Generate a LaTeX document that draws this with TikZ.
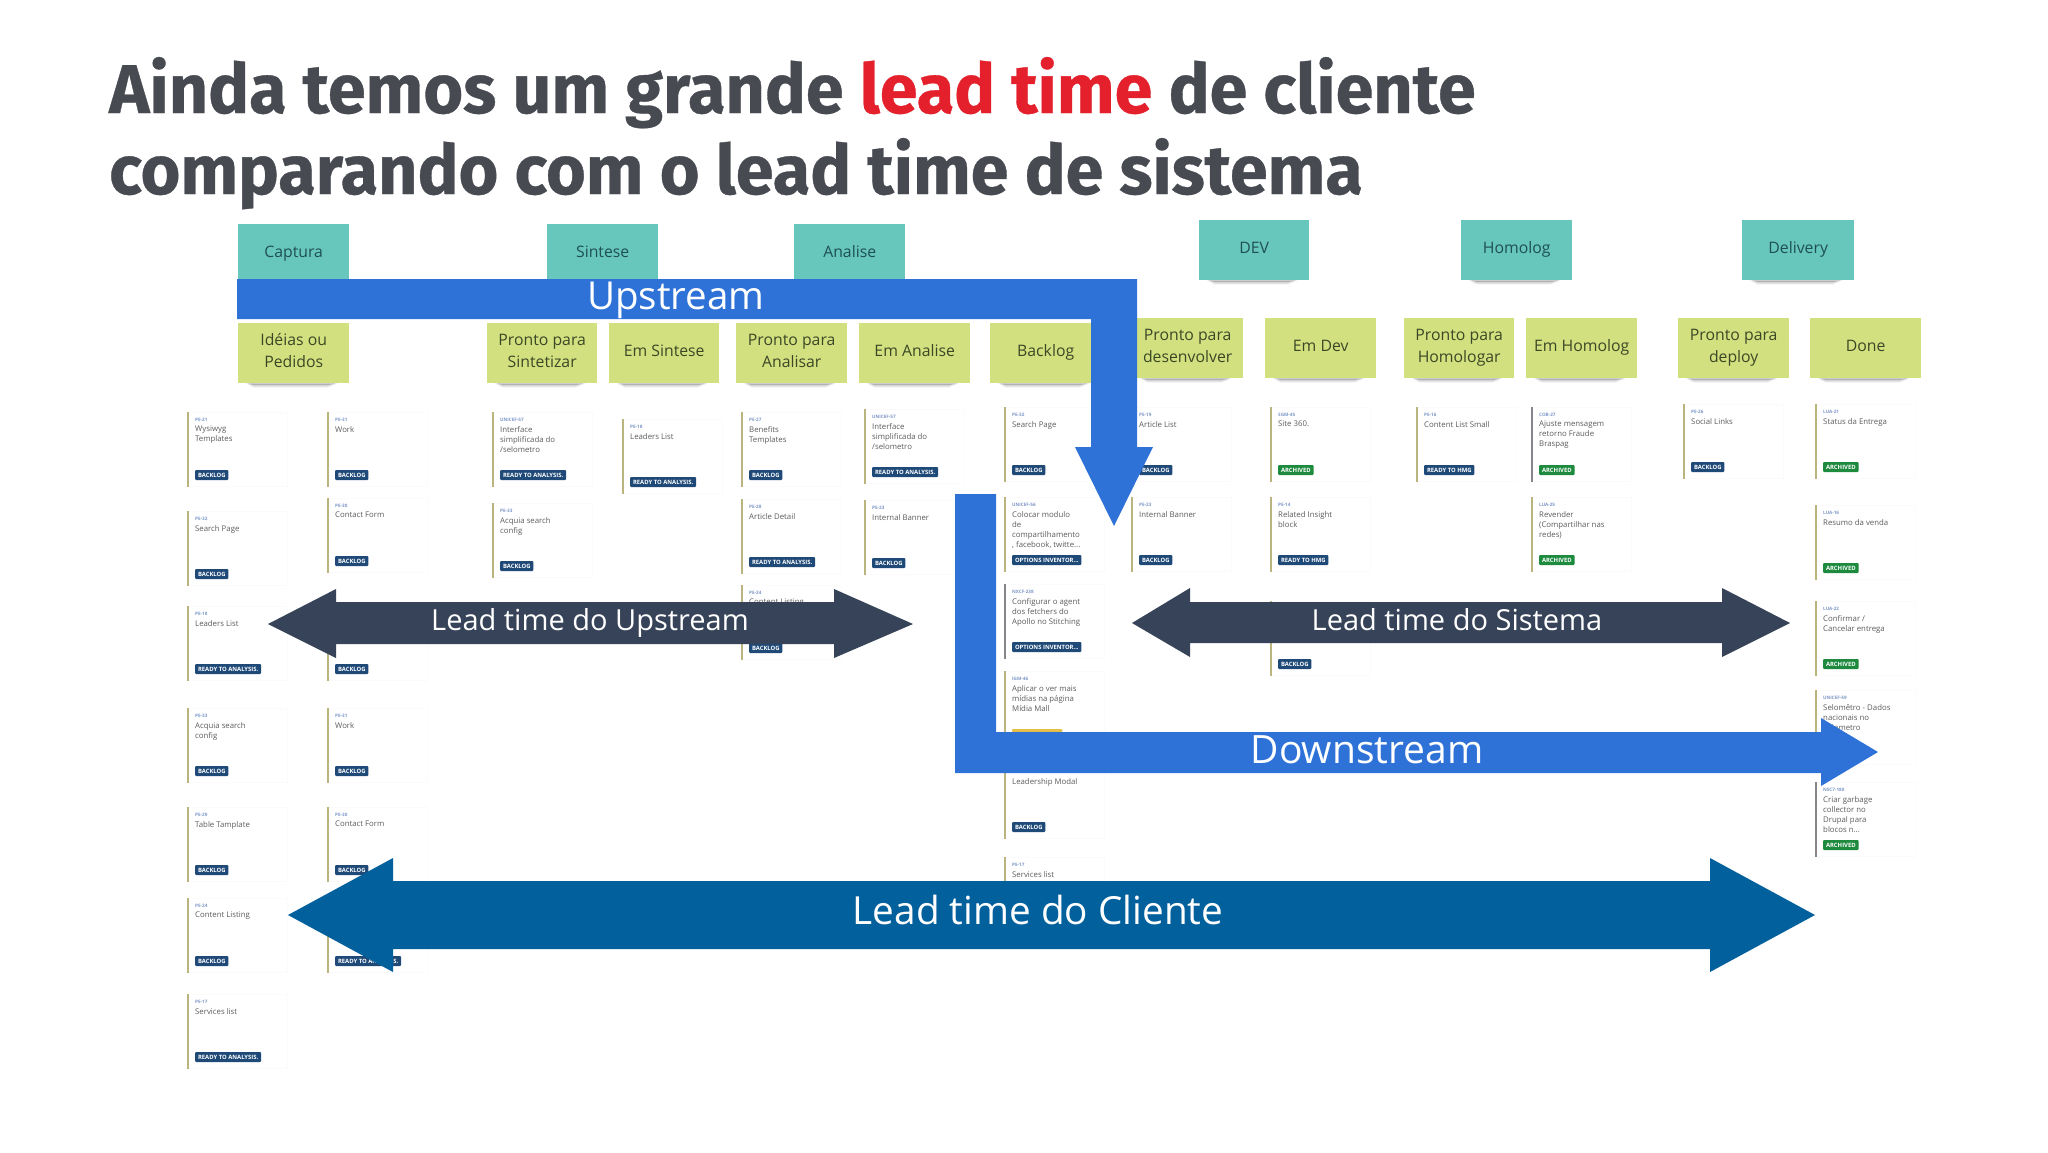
\documentclass[tikz,border=0pt]{standalone}
\usepackage{fontspec}
\setmainfont{Open Sans}
\newfontfamily\titlefont{Fira Sans}[FakeStretch=0.99,FakeBold=0.5]
\definecolor{titlegrey}{HTML}{484A52}
\definecolor{titlered}{HTML}{E3202B}
\definecolor{flowblue}{HTML}{2E72D8}
\definecolor{leaddark}{HTML}{374359}
\definecolor{leadblue}{HTML}{02609C}
\definecolor{tealnote}{HTML}{68C7BD}
\definecolor{limenote}{HTML}{D3E07F}
\definecolor{tealtext}{HTML}{1E4F58}
\definecolor{limetext}{HTML}{3B4826}
\definecolor{barolive}{HTML}{B9B57D}
\definecolor{bargrey}{HTML}{85858A}
\definecolor{tagblue}{HTML}{1F4A78}
\definecolor{taggreen}{HTML}{1D8A3E}
\definecolor{tagamber}{HTML}{E3BE4A}
\definecolor{idblue}{HTML}{7D97C8}
\definecolor{cardtext}{HTML}{5C5C60}
\tikzset{
  note/.style={anchor=north west,minimum width=#1pt,minimum height=60pt,inner sep=0pt},
  tealbox/.style={note=#1,fill=tealnote},
  limebox/.style={note=#1,fill=limenote},
  notelabel/.style={inner sep=0pt,align=center,yshift=1.5pt,font=\fontsize{15.8}{22}\selectfont},
  notelabeltealbox/.style={notelabel,text=tealtext},
  notelabellimebox/.style={notelabel,text=limetext},
  shadowwide/.style={fill=black,opacity=.10},
  shadowthin/.style={fill=black,opacity=.22},
  cardbox/.style={anchor=north west,minimum width=99pt,minimum height=74pt,inner sep=0pt,fill=white,draw=black!1.5,line width=.6pt},
  cardbar/.style={line width=1.5pt},
  cardid/.style={anchor=base west,inner sep=0pt,text=idblue,font=\fontsize{4.6}{5}\selectfont\bfseries},
  cardtitle/.style={anchor=north west,inner sep=0pt,align=left,text=cardtext,font=\fontsize{7.8}{10}\selectfont},
  tagbox/.style={anchor=west,inner xsep=2.8pt,inner ysep=0pt,minimum height=10pt,rounded corners=1pt,text=white,font=\fontsize{5.9}{6}\selectfont\bfseries},
  flowarrow/.style={fill=flowblue},
  leadarrow/.style={fill=leaddark},
  clientarrow/.style={fill=leadblue},
  biglabel/.style={inner sep=0pt,text=white,font=\fontsize{#1}{#1}\selectfont},
}
\newcount\cardno
\newcommand{\card}[7]{%
  \global\advance\cardno by 1
  \node[cardbox] (c\the\cardno) at (#1,#2) {};
  \draw[cardbar,#3] (c\the\cardno.north west) -- (c\the\cardno.south west);
  \node[cardid] (cid\the\cardno) at ({#1+7},{#2+9.5}) {#4};
  \node[cardtitle] (ct\the\cardno) at ({#1+7},{#2+14}) {#5};
  \node[tagbox,fill=#7] (ctag\the\cardno) at ({#1+7},{#2+63}) {#6};
}
\newcommand{\bk}{BACKLOG}
\newcommand{\ra}{READY TO ANALYSIS.}
\newcommand{\ar}{ARCHIVED}
\newcommand{\rh}{READY TO HMG}
\newcommand{\oi}{OPTIONS INVENTOR...}
\newcommand{\sticky}[6]{%
  \node[#4=#5] (#1) at (#2,#3) {};
  \node[notelabel#4] (#1t) at (#1.center) {\strut #6\strut};
  \fill[shadowwide] ([xshift=8pt]#1.south west) -- ([xshift=-12pt]#1.south east) -- ([xshift=-22pt,yshift=-4pt]#1.south east) -- ([xshift=16pt,yshift=-4pt]#1.south west) -- cycle;
  \fill[shadowthin] ([xshift=10pt]#1.south west) -- ([xshift=-14pt]#1.south east) -- ([xshift=-22pt,yshift=-2pt]#1.south east) -- ([xshift=16pt,yshift=-2pt]#1.south west) -- cycle;
}
\begin{document}
\begin{tikzpicture}[x=1pt,y=-1pt]
\useasboundingbox[fill=white] (0,0) rectangle (2048,1152);
% title
\node[anchor=base west,inner sep=0pt,text=titlegrey,font=\titlefont\bfseries\fontsize{69}{70}\selectfont] (t1) at (109,113) {Ainda temos um grande \textcolor{titlered}{lead time} de cliente};
\node[anchor=base west,inner sep=0pt,text=titlegrey,font=\titlefont\bfseries\fontsize{69}{70}\selectfont] (t2) at (109,194) {comparando com o lead time de sistema};
% cards
\card{188}{412}{barolive}{PE-21}{Wysiwyg\\Templates}{\bk}{tagblue}
\card{328}{412}{barolive}{PE-31}{Work}{\bk}{tagblue}
\card{493}{412}{barolive}{UNICEF-57}{Interface\\simplificada do\\/selometro}{\ra}{tagblue}
\card{188}{511}{barolive}{PE-32}{Search Page}{\bk}{tagblue}
\card{328}{498}{barolive}{PE-30}{Contact Form}{\bk}{tagblue}
\card{493}{503}{barolive}{PE-33}{Acquia search\\config}{\bk}{tagblue}
\card{188}{606}{barolive}{PE-18}{Leaders List}{\ra}{tagblue}
\card{328}{606}{barolive}{}{}{\bk}{tagblue}
\card{188}{708}{barolive}{PE-33}{Acquia search\\config}{\bk}{tagblue}
\card{328}{708}{barolive}{PE-31}{Work}{\bk}{tagblue}
\card{188}{807}{barolive}{PE-29}{Table Tamplate}{\bk}{tagblue}
\card{328}{807}{barolive}{PE-30}{Contact Form}{\bk}{tagblue}
\card{188}{898}{barolive}{PE-24}{Content Listing}{\bk}{tagblue}
\card{328}{898}{barolive}{}{}{\ra}{tagblue}
\card{188}{994}{barolive}{PE-17}{Services list}{\ra}{tagblue}
\card{623}{419}{barolive}{PE-18}{Leaders List}{\ra}{tagblue}
\card{742}{412}{barolive}{PE-27}{Benefits\\Templates}{\bk}{tagblue}
\card{865}{409}{barolive}{UNICEF-57}{Interface\\simplificada do\\/selometro}{\ra}{tagblue}
\card{1005}{407}{barolive}{PE-32}{Search Page}{\bk}{tagblue}
\card{742}{499}{barolive}{PE-28}{Article Detail}{\ra}{tagblue}
\card{865}{500}{barolive}{PE-23}{Internal Banner}{\bk}{tagblue}
\card{742}{585}{barolive}{PE-24}{Content Listing}{\bk}{tagblue}
\card{1005}{497}{barolive}{UNICEF-56}{Colocar modulo\\de\\compartilhamento\\, facebook, twitte...}{\oi}{tagblue}
\card{1005}{584}{bargrey}{NXCF-238}{Configurar o agent\\dos fetchers do\\Apollo no Stitching}{\oi}{tagblue}
\card{1005}{671}{barolive}{IGM-46}{Aplicar o ver mais\\mídias na página\\Mídia Mall}{\phantom{READY TO HMG}}{tagamber}
\card{1005}{764}{barolive}{}{Leadership Modal}{\bk}{tagblue}
\card{1005}{857}{barolive}{PE-17}{Services list}{}{tagblue}
\card{1132}{407}{barolive}{PE-19}{Article List}{\bk}{tagblue}
\card{1132}{497}{barolive}{PE-23}{Internal Banner}{\bk}{tagblue}
\card{1271}{407}{barolive}{SGM-45}{Site 360.}{\ar}{taggreen}
\card{1271}{497}{barolive}{PE-14}{Related Insight\\block}{\rh}{tagblue}
\card{1271}{601}{barolive}{}{}{\bk}{tagblue}
\card{1417}{407}{barolive}{PE-16}{Content List Small}{\rh}{tagblue}
\card{1532}{407}{bargrey}{COB-27}{Ajuste mensagem\\retorno Fraude\\Braspag}{\ar}{taggreen}
\card{1532}{497}{barolive}{LUA-25}{Revender\\(Compartilhar nas\\redes)}{\ar}{taggreen}
\card{1684}{404}{barolive}{PE-26}{Social Links}{\bk}{tagblue}
\card{1816}{404}{barolive}{LUA-21}{Status da Entrega}{\ar}{taggreen}
\card{1816}{505}{barolive}{LUA-16}{Resumo da venda}{\ar}{taggreen}
\card{1816}{601}{barolive}{LUA-22}{Confirmar /\\Cancelar entrega}{\ar}{taggreen}
\card{1816}{690}{barolive}{UNICEF-59}{Selomêtro - Dados\\nacionais no\\Selometro}{\ar}{taggreen}
\card{1816}{782}{bargrey}{NSC7-180}{Criar garbage\\collector no\\Drupal para\\blocos n...}{\ar}{taggreen}
% stickies
\sticky{s1}{238}{224}{tealbox}{111}{Captura}
\sticky{s2}{547}{224}{tealbox}{111}{Sintese}
\sticky{s3}{794}{224}{tealbox}{111}{Analise}
\sticky{s4}{1199}{220}{tealbox}{110}{DEV}
\sticky{s5}{1461}{220}{tealbox}{111}{Homolog}
\sticky{s6}{1742}{220}{tealbox}{112}{Delivery}
\sticky{n1}{238}{323}{limebox}{111}{Idéias ou\\Pedidos}
\sticky{n2}{487}{323}{limebox}{110}{Pronto para\\Sintetizar}
\sticky{n3}{609}{323}{limebox}{110}{Em Sintese}
\sticky{n4}{736}{323}{limebox}{111}{Pronto para\\Analisar}
\sticky{n5}{859}{323}{limebox}{111}{Em Analise}
\sticky{n6}{990}{323}{limebox}{111}{Backlog}
\sticky{n7}{1132}{318}{limebox}{111}{Pronto para\\desenvolver}
\sticky{n8}{1265}{318}{limebox}{111}{Em Dev}
\sticky{n9}{1404}{318}{limebox}{110}{Pronto para\\Homologar}
\sticky{n10}{1526}{318}{limebox}{111}{Em Homolog}
\sticky{n11}{1678}{318}{limebox}{111}{Pronto para\\deploy}
\sticky{n12}{1810}{318}{limebox}{111}{Done}
% block arrows
\fill[flowarrow] (237,279) -- (1137,279) -- (1137,447) -- (1153,447) -- (1114,526) -- (1075,447) -- (1091,447) -- (1091,319) -- (237,319) -- cycle;
\node[biglabel=38.5] (up) at (676,300) {Upstream};
\fill[flowarrow] (955,494) -- (996,494) -- (996,732) -- (1821,732) -- (1821,718) -- (1878,752) -- (1821,786) -- (1821,773) -- (955,773) -- cycle;
\node[biglabel=39] (down) at (1367,750) {Downstream};
\fill[leadarrow] (268,624) -- (336,589) -- (336,602) -- (834,602) -- (834,589) -- (913,624) -- (834,658) -- (834,644) -- (336,644) -- (336,658) -- cycle;
\node[biglabel=29] (lu) at (590,623) {Lead time do Upstream};
\fill[leadarrow] (1132,623) -- (1190,588) -- (1190,602) -- (1722,602) -- (1722,588) -- (1790,623) -- (1722,657) -- (1722,643) -- (1190,643) -- (1190,657) -- cycle;
\node[biglabel=29] (ls) at (1457,620) {Lead time do Sistema};
\fill[clientarrow] (288,915) -- (393,858) -- (393,881) -- (1710,881) -- (1710,858) -- (1815,915) -- (1710,972) -- (1710,949) -- (393,949) -- (393,972) -- cycle;
\node[biglabel=38.7] (lc) at (1038,910) {Lead time do Cliente};
\end{tikzpicture}
\end{document}
